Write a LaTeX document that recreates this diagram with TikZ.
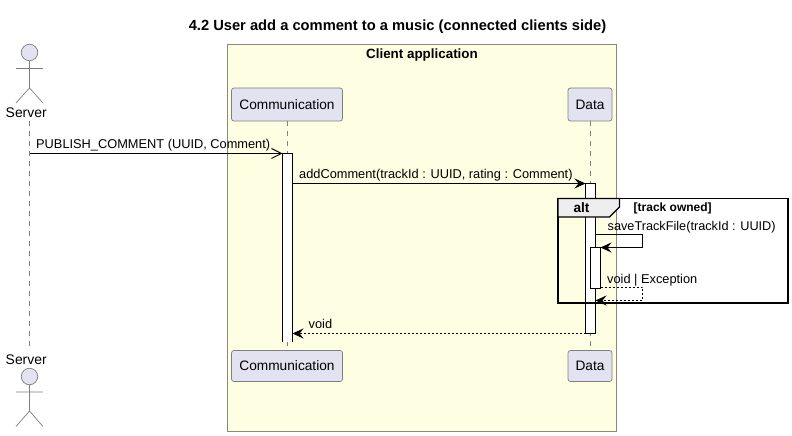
\documentclass[tikz,border=0pt]{standalone}
\usepackage{fontspec}
\setmainfont{Liberation Sans}
\usetikzlibrary{arrows.meta}
\definecolor{partfill}{HTML}{E2E2F0}
\definecolor{partline}{HTML}{7F7F7F}
\definecolor{boxfill}{HTML}{FEFEE2}
\definecolor{boxline}{HTML}{8A8A78}
\definecolor{tabfill}{HTML}{EEEEEE}
\newcommand{\px}[1]{\fontsize{#1bp}{#1bp}\selectfont}
\tikzset{
  x=1bp,y=-1bp,
  part/.style={draw=partline,fill=partfill,rounded corners=2.5bp,line width=0.7bp,minimum height=33bp,inner sep=0pt,font=\px{13.7}},
  life/.style={draw=partline,line width=0.7bp,dash pattern=on 5bp off 5bp},
  actorline/.style={draw=partline,line width=0.7bp},
  lbl/.style={inner sep=0pt,anchor=base west,font=\px{12.8}},
  actorlbl/.style={inner sep=0pt,anchor=base,font=\px{13.9}},
  actbar/.style={draw=black,fill=white,line width=0.8bp},
  msg/.style={draw=black,line width=0.8bp,-{Straight Barb[length=10bp,width=10bp,line width=0.9bp]}},
  solidtip/.style={draw=black,line width=0.8bp,-{Stealth[length=11bp,width=10bp,inset=4bp]}},
  retmsg/.style={solidtip,dash pattern=on 2bp off 2bp},
}
\begin{document}
\begin{tikzpicture}
\useasboundingbox (0,0) rectangle (792,436);
\fill[white] (0,0) rectangle (792,436);
\node[inner sep=0pt,anchor=base,font=\bfseries\px{14.7}] (title) at (397.5,30.5) {4.2 User add a comment to a music (connected clients side)};
% box
\draw[draw=boxline,fill=boxfill,line width=0.8bp] (227.5,44.5) rectangle (616.5,431.5);
\node[inner sep=0pt,anchor=base,font=\bfseries\px{13.4}] (boxtitle) at (422,58.5) {Client application};
% participants
\node[part,minimum width=111bp] (commtop) at (287,104.5) {Communication};
\node[part,minimum width=44bp] (datatop) at (590,104.5) {Data};
\node[part,minimum width=111bp,minimum height=31bp] (commbot) at (287,366) {Communication};
\node[part,minimum width=44bp,minimum height=31bp] (databot) at (590,366) {Data};
% actors
\node[actorlbl] (srvtop) at (26.2,118) {Server};
\node[actorlbl] (srvbot) at (26.2,365) {Server};
\node[circle,draw=partline,fill=partfill,line width=0.7bp,minimum size=16.5bp,inner sep=0pt] (headtop) at (29.5,52.5) {};
\node[circle,draw=partline,fill=partfill,line width=0.7bp,minimum size=16.5bp,inner sep=0pt] (headbot) at (29.5,376.5) {};
\draw[actorline] (headtop.south) -- (29.5,88) -- (16,103) (29.5,88) -- (43,103) (16,68.5) -- (43,68.5);
\draw[actorline] (headbot.south) -- (29.5,411) -- (16,426.5) (29.5,411) -- (43,426.5) (16,392) -- (43,392);
% lifelines
\draw[life] (29.5,121) -- (29.5,347);
\draw[life] (commtop.south) -- (commbot.north);
\draw[life] (datatop.south) -- (databot.north);
% activations
\coordinate (a1tl) at (282.5,153.5);
\coordinate (a1br) at (292.5,342);
\fill[white] (a1tl) rectangle (a1br);
\draw[black,line width=0.8bp] (282.5,342) -- (a1tl) -- (292.5,153.5) -- (a1br);
\node[actbar,minimum width=10bp,minimum height=150bp,inner sep=0pt] (a2) at (590.5,258.5) {};
% messages
\coordinate (srvm) at (29.5,153.5);
\draw[msg] (srvm) -- (a1tl);
\node[lbl] (m1) at (36,149) {PUBLISH\_COMMENT (UUID, Comment)};
\coordinate (a1m) at (292.5,183.5);
\coordinate (a2m) at (585.5,183.5);
\draw[solidtip] (a1m) -- (a2m);
\node[lbl] (m2) at (299,179) {addComment(trackId : UUID, rating : Comment)};
% frame
\draw[black,line width=1.9bp] (558,198.5) rectangle (788,303);
\draw[black,line width=1.1bp,fill=tabfill] (558,198.5) -- (619.5,198.5) -- (619.5,207) -- (609.5,217) -- (558,217) -- cycle;
\node[inner sep=0pt,anchor=base,font=\bfseries\px{13.6}] (alt) at (581.5,213) {alt};
\node[inner sep=0pt,anchor=base west,font=\bfseries\px{12}] (cond) at (633.5,212) {[track owned]};
% inner activation
\node[actbar,minimum width=10bp,minimum height=41bp,inner sep=0pt] (a3) at (595.5,267.5) {};
% self messages
\coordinate (s1) at (595.5,234.5);
\coordinate (s2) at (642.5,234.5);
\coordinate (s3) at (642.5,247.5);
\coordinate (s4) at (600.5,247.5);
\draw[solidtip] (s1) -- (s2) -- (s3) -- (s4);
\node[lbl,font=\px{12.7}] (m3) at (607.5,230.7) {saveTrackFile(trackId : UUID)};
\coordinate (r1) at (600.5,287.5);
\coordinate (r2) at (642.5,287.5);
\coordinate (r3) at (642.5,300.5);
\coordinate (r4) at (595.5,300.5);
\draw[retmsg] (r1) -- (r2) -- (r3) -- (r4);
\node[lbl] (m4) at (607,283.7) {void | Exception};
% return
\coordinate (b1) at (585.5,333.5);
\coordinate (b2) at (292.5,333.5);
\draw[retmsg] (b1) -- (b2);
\node[lbl] (m5) at (308.5,328.5) {void};
\end{tikzpicture}
\end{document}
